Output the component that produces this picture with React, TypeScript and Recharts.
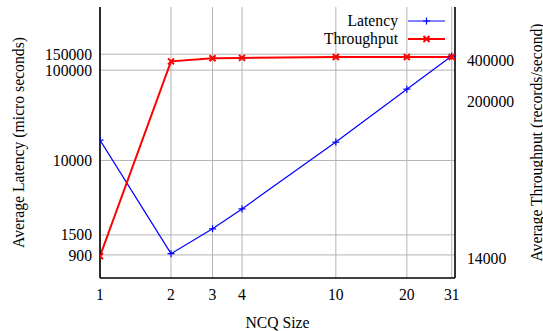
import React from 'react';
import { LineChart, Line, XAxis, YAxis, CartesianGrid, Legend } from 'recharts';

const ncqSizes = [1, 2, 3, 4, 10, 20, 31];
const latencyUs = [16800, 930, 1750, 2910, 16000, 61600, 143000];
const throughputRps = [14500, 397000, 419000, 421000, 428000, 428000, 428000];

const xTicks = [1, 2, 3, 4, 10, 20, 31];
const leftTicks = [900, 1500, 10000, 100000, 150000];
const rightTicks = [14000, 200000, 400000];

const data = ncqSizes.map((n, i) => ({ n, latency: latencyUs[i], throughput: throughputRps[i] }));

const FONT = '"Liberation Serif", "Times New Roman", serif';
const FS = 15.7;
const BLUE = '#0000ff';
const RED = '#ff0000';

const PlusDot = (props: any) => {
  const { cx, cy, index } = props;
  if (cx == null || cy == null) return <g key={`p-${index}`} />;
  return (
    <path key={`p-${index}`} d={`M${cx - 3.5},${cy}H${cx + 3.5}M${cx},${cy - 3.5}V${cy + 3.5}`} stroke={BLUE} strokeWidth={1.2} />
  );
};

const CrossDot = (props: any) => {
  const { cx, cy, index } = props;
  if (cx == null || cy == null) return <g key={`x-${index}`} />;
  return (
    <path key={`x-${index}`} d={`M${cx - 3},${cy - 3}L${cx + 3},${cy + 3}M${cx - 3},${cy + 3}L${cx + 3},${cy - 3}`} stroke={RED} strokeWidth={2} />
  );
};

const legendItems = [
  { name: 'Latency', color: BLUE, width: 1.2, marker: 'plus' },
  { name: 'Throughput', color: RED, width: 2, marker: 'cross' },
];

const renderLegend = () => (
  <div style={{ fontFamily: FONT, fontSize: FS, color: '#000' }}>
    {legendItems.map((it) => (
      <div key={it.name} style={{ display: 'flex', alignItems: 'center', justifyContent: 'flex-end', height: 18.3 }}>
        <span style={{ lineHeight: '18px' }}>{it.name}</span>
        <svg width={37} height={10} style={{ marginLeft: 10 }}>
          <line x1={0} y1={5} x2={37} y2={5} stroke={it.color} strokeWidth={it.width} />
          {it.marker === 'plus' ? (
            <path d="M15,5H22M18.5,1.5V8.5" stroke={it.color} strokeWidth={1.2} />
          ) : (
            <path d="M15.5,2L21.5,8M15.5,8L21.5,2" stroke={it.color} strokeWidth={2} />
          )}
        </svg>
      </div>
    ))}
  </div>
);

const tickStyle = { fontFamily: FONT, fontSize: FS, fill: '#000' };

const vLabel = (text: string, x: number) => (props: any) => {
  const vb = props.viewBox || { y: 7, height: 271 };
  const cy = vb.y + vb.height / 2;
  return (
    <text x={x} y={cy} transform={`rotate(-90, ${x}, ${cy})`} textAnchor="middle" dominantBaseline="central"
      style={{ fontFamily: FONT, fontSize: FS, fill: '#000' }}>
      {text}
    </text>
  );
};

const xLabel = (props: any) => {
  const vb = props.viewBox || { x: 100, width: 355 };
  return (
    <text x={vb.x + vb.width / 2} y={328} textAnchor="middle" style={{ fontFamily: FONT, fontSize: FS, fill: '#000' }}>
      NCQ Size
    </text>
  );
};

export default function App() {
  return (
    <div style={{ position: 'absolute', left: 0, top: 0, background: '#fff' }}>
      <LineChart width={543} height={331} data={data} margin={{ top: 7, right: 0, bottom: 0, left: 0 }}>
        <CartesianGrid yAxisId="left" stroke="#b4b4b4" strokeWidth={1} verticalValues={xTicks} horizontalValues={leftTicks} />
        <XAxis
          dataKey="n"
          type="number"
          scale="log"
          domain={[1, 32]}
          ticks={xTicks}
          interval={0}
          allowDataOverflow
          height={53}
          tickLine={false}
          tickSize={6}
          tickMargin={5}
          tick={tickStyle}
          axisLine={{ stroke: '#000', strokeWidth: 1.6 }}
          label={xLabel}
        />
        <XAxis xAxisId="top" orientation="top" height={0} tick={false} tickLine={false} axisLine={{ stroke: '#000', strokeWidth: 1.6 }} />
        <YAxis
          yAxisId="left"
          type="number"
          scale="log"
          domain={[500, 500000]}
          allowDataOverflow
          ticks={leftTicks}
          interval={0}
          width={100}
          tickLine={false}
          tickSize={6}
          tickMargin={2}
          tick={tickStyle}
          axisLine={{ stroke: '#000', strokeWidth: 1.6 }}
          label={vLabel('Average Latency (micro seconds)', 18)}
        />
        <YAxis
          yAxisId="right"
          orientation="right"
          type="number"
          scale="log"
          domain={[10000, 1000000]}
          allowDataOverflow
          ticks={rightTicks}
          interval={0}
          width={88}
          tickLine={false}
          tickSize={6}
          tickMargin={6}
          tick={tickStyle}
          axisLine={{ stroke: '#000', strokeWidth: 1.6 }}
          label={vLabel('Average Throughput (records/second)', 536)}
        />
        <Legend
          layout="vertical"
          align="center"
          verticalAlign="middle"
          content={renderLegend}
          wrapperStyle={{ top: 11.5, left: 250, width: 195 }}
        />
        <Line yAxisId="left" type="linear" dataKey="latency" name="Latency" stroke={BLUE} strokeWidth={1.2} dot={PlusDot} isAnimationActive={false} />
        <Line yAxisId="right" type="linear" dataKey="throughput" name="Throughput" stroke={RED} strokeWidth={2} dot={CrossDot} isAnimationActive={false} />
      </LineChart>
    </div>
  );
}
